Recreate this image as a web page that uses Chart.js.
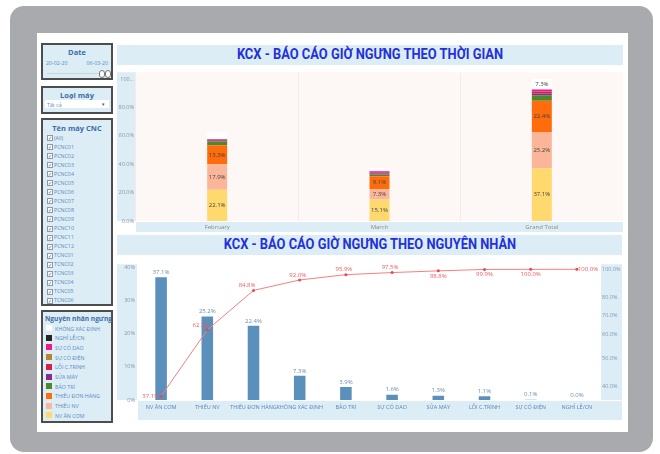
<!DOCTYPE html>
<html>
<head>
<meta charset="utf-8">
<script src="https://cdn.jsdelivr.net/npm/chart.js@4"></script>
<style>
body{margin:0;width:660px;height:454px;background:#fff;position:relative;overflow:hidden;font-family:"Open Sans","Noto Sans",sans-serif}
.frame{position:absolute;left:10px;top:6px;width:643px;height:446px;background:#a9aaae;border-radius:14px}
.panel{position:absolute;left:37px;top:33px;width:591px;height:399px;background:#fff}
.box{position:absolute;left:41px;width:72px;background:#dcedf6;border:2px solid #4d4d4d;box-sizing:border-box}
.btitle{position:absolute;left:0;right:0;text-align:center;font-weight:700;font-size:7.5px;color:#3d6ea6;white-space:nowrap}
.small{position:absolute;font-size:5.3px;color:#5b8cc0;white-space:nowrap}
.chk{position:absolute;left:4px;width:4px;height:4px;background:#fff;border:0.5px solid #8a9aa8;font-size:4.5px;line-height:4px;color:#555;text-align:center}
.sw{position:absolute;left:3px;width:6px;height:6px}
.title{position:absolute;left:117px;height:20px;background:#dcedf6;overflow:hidden}
.title span{position:absolute;left:50%;top:1px;font-family:Roboto,sans-serif;font-weight:700;font-size:14px;color:#2330dc;white-space:nowrap;transform-origin:center}
canvas{position:absolute}
</style>
</head>
<body>
<div class="frame"></div>
<div class="panel"></div>

<div class="box" style="top:43px;height:37px">
  <div class="btitle" style="top:2px">Date</div>
  <div class="small" style="left:3px;top:14px">20-02-20</div>
  <div class="small" style="right:3px;top:14px">06-03-20</div>
  <div style="position:absolute;left:4px;right:5px;top:28px;height:1px;background:#c9d6de"></div>
  <div style="position:absolute;left:56px;top:25px;width:4px;height:6px;border:1px solid #777;border-radius:3px;background:#fff"></div>
  <div style="position:absolute;left:62px;top:25px;width:4px;height:6px;border:1px solid #777;border-radius:3px;background:#fff"></div>
</div>

<div class="box" style="top:86px;height:28px">
  <div class="btitle" style="top:2px">Loại máy</div>
  <div style="position:absolute;left:2px;right:2px;top:12px;height:8px;background:#fff"></div>
  <div class="small" style="left:4px;top:12.5px">Tất cả</div>
  <div class="small" style="right:6px;top:12px;color:#555">▾</div>
</div>

<div class="box" id="machineBox" style="top:118px;height:188px">
  <div class="btitle" style="top:3px">Tên máy CNC</div>
</div>

<div class="box" id="legendBox" style="top:310px;height:113px">
  <div class="btitle" style="top:2px;text-align:left;left:2px;font-size:6.6px">Nguyên nhân ngưng</div>
</div>

<div class="title" style="top:45px;width:506px"><span id="t1">KCX - BÁO CÁO GIỜ NGƯNG THEO THỜI GIAN</span></div>
<div class="title" style="top:235px;width:505px"><span id="t2">KCX - BÁO CÁO GIỜ NGƯNG THEO NGUYÊN NHÂN</span></div>

<canvas id="top" width="506" height="165" style="left:117px;top:67px"></canvas>
<canvas id="bottom" width="505" height="162" style="left:117px;top:258px"></canvas>

<script>
// ---- data ----
const months = ['February', 'March', 'Grand Total'];

// stop causes, in stack order (bottom -> top)
const causes = ['NV ĂN CƠM', 'THIẾU NV', 'THIẾU ĐƠN HÀNG', 'BẢO TRÌ', 'SỬA MÁY', 'LỖI C.TRÌNH', 'SỰ CỐ ĐIỆN', 'SỰ CỐ DAO', 'NGHỈ LỄ/CN', 'KHÔNG XÁC ĐỊNH'];
const causeColors = ['#ffd86e', '#fbb69a', '#ff6c0c', '#4b8a2c', '#8c2b8c', '#d3214a', '#b8862c', '#f0168c', '#262626', '#ffffff'];

// % of total per month
const nvAnCom = [22.1, 15.1, 37.1];
const thieuNv = [17.9, 7.3, 25.2];
const thieuDonHang = [13.3, 9.1, 22.4];
const baoTri = [2.7, 1.2, 3.9];
const suaMay = [0.6, 0.7, 1.3];
const loiCTrinh = [0.5, 0.6, 1.1];
const suCoDien = [0.1, 0.0, 0.1];
const suCoDao = [0.6, 1.0, 1.6];
const nghiLe = [0.0, 0.0, 0.0];
const khongXacDinh = [4.9, 2.4, 7.3];
const monthSeries = [nvAnCom, thieuNv, thieuDonHang, baoTri, suaMay, loiCTrinh, suCoDien, suCoDao, nghiLe, khongXacDinh];

const topTicks = [0, 20, 40, 60, 80, 100];

// pareto
const paretoCats = ['NV ĂN CƠM', 'THIẾU NV', 'THIẾU ĐƠN HÀNG', 'KHÔNG XÁC ĐỊNH', 'BẢO TRÌ', 'SỰ CỐ DAO', 'SỬA MÁY', 'LỖI C.TRÌNH', 'SỰ CỐ ĐIỆN', 'NGHỈ LỄ/CN'];
const paretoShare = [37.1, 25.2, 22.4, 7.3, 3.9, 1.6, 1.3, 1.1, 0.1, 0.0];
const paretoCumul = [37.1, 62.3, 84.8, 92.0, 95.9, 97.5, 98.8, 99.9, 100.0, 100.0];
const leftTicks = [0, 10, 20, 30, 40];
const rightTicks = [40, 50, 60, 70, 80, 100];

const machines = ['(All)', 'PCNC01', 'PCNC02', 'PCNC03', 'PCNC04', 'PCNC05', 'PCNC06', 'PCNC07', 'PCNC08', 'PCNC09', 'PCNC10', 'PCNC11', 'PCNC12',
  'TCNC01', 'TCNC02', 'TCNC03', 'TCNC04', 'TCNC05', 'TCNC06'];

// where each cumulative label sits relative to its point
const cumulLabelPos = ['left', 'upleft', 'upleft', 'up', 'up', 'up', 'down', 'down', 'down', 'right'];

// ---- side panel ----
const mBox = document.getElementById('machineBox');
machines.forEach(function(m, i) {
    const y = 15 + i * 9.05;
    mBox.insertAdjacentHTML('beforeend',
        '<div class="chk" style="top:' + y + 'px">✓</div><div class="small" style="left:11px;top:' + (y - 1.5) + 'px">' + m + '</div>');
});

const lBox = document.getElementById('legendBox');
for (let k = causes.length - 1, i = 0; k >= 0; k--, i++) {
    const y = 13 + i * 9.7;
    lBox.insertAdjacentHTML('beforeend',
        '<div class="sw" style="top:' + y + 'px;background:' + causeColors[k] + '"></div><div class="small" style="left:12px;top:' + (y - 0.5) + 'px">' + causes[k] + '</div>');
}

function fitTitle(id, w) {
    const el = document.getElementById(id);
    const s = w / el.offsetWidth;
    el.style.transform = 'translateX(-50%) scaleX(' + s + ')';
}
fitTitle('t1', 266);
fitTitle('t2', 292);

// ---- plugins ----
const strips = {
    id: 'strips',
    beforeDraw(chart, args, opts) {
        const ctx = chart.ctx, a = chart.chartArea;
        ctx.save();
        ctx.fillStyle = opts.plot;
        ctx.fillRect(a.left, a.top, a.right - a.left, a.bottom - a.top);
        ctx.fillStyle = '#dcedf6';
        Object.values(chart.scales).forEach(function(s) {
            if (s.axis === 'x') {
                ctx.fillRect(s.left, s.top + 1, chart.width - s.left, s.height - 1);
            } else if (s.position === 'left') {
                ctx.fillRect(0, a.top, a.left - 1, a.bottom - a.top);
            } else {
                ctx.fillRect(a.right + 1, a.top, chart.width - a.right - 1, a.bottom - a.top);
            }
        });
        ctx.restore();
    }
};

const stackLabels = {
    id: 'stackLabels',
    afterDatasetsDraw(chart) {
        const ctx = chart.ctx;
        ctx.save();
        ctx.font = '6px "Open Sans"';
        ctx.fillStyle = '#444';
        ctx.textAlign = 'center';
        ctx.textBaseline = 'middle';
        chart.data.datasets.forEach(function(ds, i) {
            chart.getDatasetMeta(i).data.forEach(function(bar, j) {
                if (ds.data[j] >= 5) {
                    ctx.fillText(ds.data[j].toFixed(1) + '%', bar.x, (bar.y + bar.base) / 2);
                }
            });
        });
        ctx.restore();
    }
};

const paretoLabels = {
    id: 'paretoLabels',
    afterDatasetsDraw(chart) {
        const ctx = chart.ctx;
        ctx.save();
        ctx.font = '6px "Open Sans"';
        ctx.textBaseline = 'middle';
        // bar values
        ctx.fillStyle = '#6a8fb2';
        ctx.textAlign = 'center';
        chart.getDatasetMeta(1).data.forEach(function(bar, j) {
            ctx.fillText(paretoShare[j].toFixed(1) + '%', bar.x, bar.y - 5);
        });
        // cumulative values
        ctx.fillStyle = '#f05a5a';
        chart.getDatasetMeta(0).data.forEach(function(pt, j) {
            const t = paretoCumul[j].toFixed(1) + '%';
            const p = cumulLabelPos[j];
            if (p === 'left') { ctx.textAlign = 'right'; ctx.fillText(t, pt.x - 2, pt.y); }
            else if (p === 'upleft') { ctx.textAlign = 'right'; ctx.fillText(t, pt.x + 2, pt.y - 5); }
            else if (p === 'up') { ctx.textAlign = 'center'; ctx.fillText(t, pt.x - 2, pt.y - 5); }
            else if (p === 'down') { ctx.textAlign = 'center'; ctx.fillText(t, pt.x, pt.y + 5); }
            else { ctx.textAlign = 'left'; ctx.fillText(t, pt.x + 1, pt.y); }
        });
        ctx.restore();
    }
};

Chart.defaults.font.family = '"Open Sans", sans-serif';

// ---- top chart ----
new Chart(document.getElementById('top'), {
    type: 'bar',
    data: {
        labels: months,
        datasets: causes.map(function(c, k) {
            return {
                label: c,
                data: monthSeries[k],
                backgroundColor: causeColors[k],
                barPercentage: 0.123,
                categoryPercentage: 1
            };
        })
    },
    options: {
        responsive: false,
        animation: false,
        layout: { padding: 0 },
        plugins: { legend: { display: false }, tooltip: { enabled: false }, strips: { plot: '#fdf8f5' } },
        scales: {
            x: {
                stacked: true,
                grid: { offset: true, color: '#f6ebe7', drawTicks: false },
                border: { display: false },
                ticks: { font: { size: 6 }, color: '#8a8a8a', padding: 3 },
                afterFit(s) { s.height = 11; }
            },
            y: {
                stacked: true,
                min: 0,
                max: 104.8,
                afterBuildTicks(s) { s.ticks = topTicks.map(v => ({ value: v })); },
                grid: { display: false, drawTicks: false },
                border: { display: false },
                ticks: {
                    font: { size: 5.5 }, color: '#8796a8', padding: 2,
                    callback: v => v === 100 ? '100...' : v.toFixed(1) + '%'
                },
                afterFit(s) { s.width = 19; }
            }
        }
    },
    plugins: [strips, stackLabels]
});

// ---- bottom chart ----
new Chart(document.getElementById('bottom'), {
    type: 'bar',
    data: {
        labels: paretoCats,
        datasets: [{
            type: 'line',
            label: 'Lũy kế',
            data: paretoCumul,
            yAxisID: 'y2',
            borderColor: '#f77f7f',
            borderWidth: 1,
            pointRadius: 1.5,
            pointBackgroundColor: '#e84a4a',
            pointBorderWidth: 0,
            tension: 0,
            order: 0
        }, {
            label: 'Tỷ lệ',
            data: paretoShare,
            yAxisID: 'y',
            backgroundColor: '#5b8fbc',
            barPercentage: 0.25,
            categoryPercentage: 1,
            order: 1
        }]
    },
    options: {
        responsive: false,
        animation: false,
        layout: { padding: 0 },
        plugins: { legend: { display: false }, tooltip: { enabled: false }, strips: { plot: '#ffffff' } },
        scales: {
            x: {
                grid: { display: false, drawTicks: false },
                border: { display: false },
                ticks: { font: { size: 5.5 }, color: '#5b87b5', padding: 4, autoSkip: false, maxRotation: 0, minRotation: 0 },
                afterFit(s) { s.height = 20; }
            },
            y: {
                position: 'left',
                min: 0,
                max: 41,
                afterBuildTicks(s) { s.ticks = leftTicks.map(v => ({ value: v })); },
                grid: { display: false, drawTicks: false },
                border: { display: false },
                ticks: { font: { size: 5.5 }, color: '#8796a8', padding: 3, callback: v => v + '%' },
                afterFit(s) { s.width = 21; }
            },
            y2: {
                type: 'logarithmic',
                position: 'right',
                min: 36,
                max: 104,
                afterBuildTicks(s) { s.ticks = rightTicks.map(v => ({ value: v })); },
                grid: { display: false, drawTicks: false },
                border: { display: false },
                ticks: { font: { size: 5.5 }, color: '#7b9ab8', padding: 2, callback: v => Number(v).toFixed(1) + '%' },
                afterFit(s) { s.width = 22; }
            }
        }
    },
    plugins: [strips, paretoLabels]
});
</script>
</body>
</html>
